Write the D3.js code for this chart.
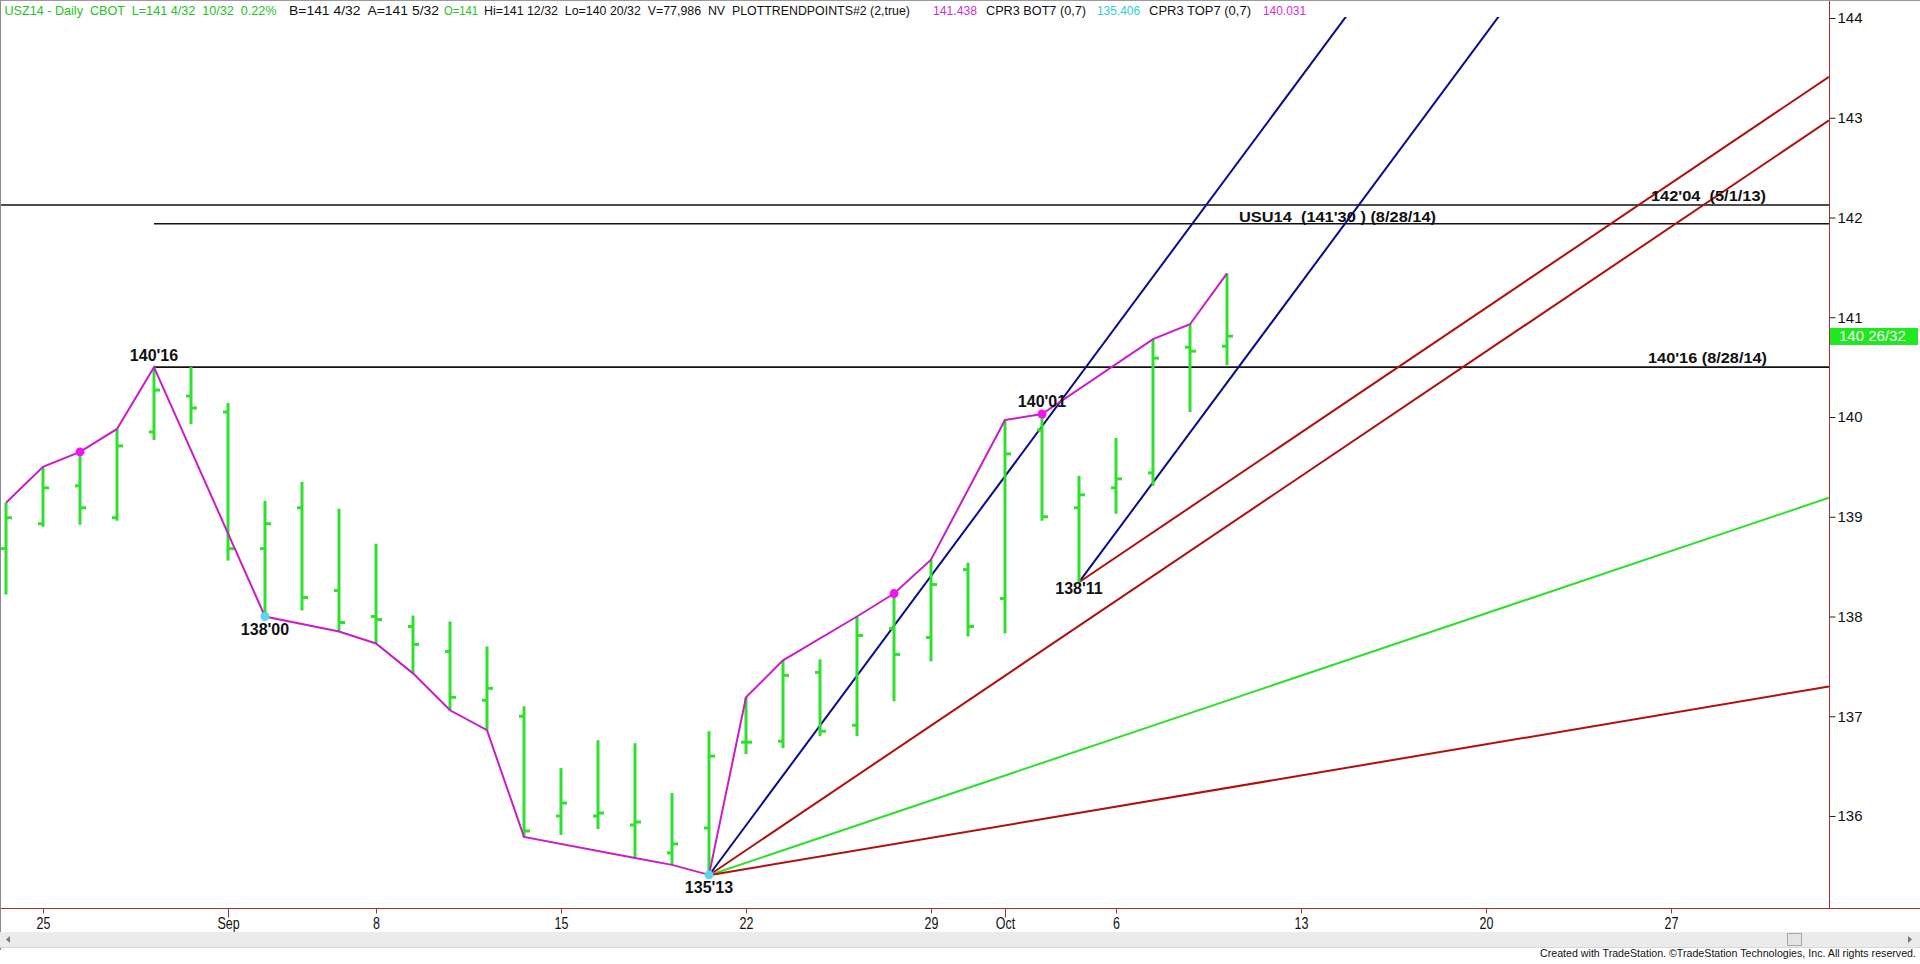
<!DOCTYPE html>
<html><head><meta charset="utf-8">
<script src="https://cdn.jsdelivr.net/npm/d3@7"></script>
<style>
html,body{margin:0;padding:0;background:#fff;overflow:hidden}
svg{display:block}
text{font-family:"Liberation Sans",Arial,sans-serif}
</style></head><body>
<svg id="chart" width="1920" height="964"></svg>
<script>
// ---- data (bar index: 0 = Aug 25, 2014; trading days only) ----
const barIndex = [-1,0,1,2,3,4,5,6,7,8,9,10,11,12,13,14,15,16,17,18,19,20,21,22,23,24,25,26,27,28,29,30,31,32];
const opens  = [138.68,138.93,139.31,138.99,139.85,140.21,140.05,138.68,139.09,138.26,138.00,137.90,137.65,137.16,137.00,136.00,136.00,135.91,135.63,135.88,136.74,136.75,137.44,136.91,137.88,137.79,138.47,138.18,139.87,139.09,139.29,139.44,140.70,140.71];
const highs  = [139.14,139.50,139.65,139.88,140.50,140.50,140.14,139.16,139.35,139.08,138.73,138.01,137.95,137.70,137.10,136.48,136.76,136.73,136.23,136.85,137.19,137.56,137.57,138.00,138.23,138.57,138.54,139.97,140.03,139.41,139.79,140.78,140.93,141.44];
const lows   = [138.22,138.90,138.92,138.96,139.77,139.93,138.56,138.00,138.06,137.85,137.73,137.43,137.06,136.86,135.79,135.81,135.87,135.58,135.51,135.41,136.62,136.68,136.80,136.80,137.15,137.55,137.80,137.83,138.96,138.34,139.03,139.31,140.05,140.52];
const closes = [138.99,139.29,139.09,139.71,140.27,140.09,138.68,138.93,138.19,137.94,137.97,137.72,137.19,137.28,135.85,136.13,136.03,135.94,135.72,136.60,136.74,137.41,136.85,137.81,137.62,138.32,137.90,139.63,139.00,139.22,139.38,140.59,140.66,140.81];

// trend-point path (PLOTTRENDPOINTS): bar index and which extreme
const trendIdx  = [-1,0,1,2,3,6,8,9,10,11,12,13,16,17,18,19,20,22,23,24,26,27,30,31,32];
const trendSide = ["H","H","H","H","H","L","L","L","L","L","L","L","L","L","L","H","H","H","H","H","H","H","H","H","H"];
// marked pivots
const dotIdx  = [1,6,18,23,27];
const dotSide = ["H","L","L","H","H"];
const dotKind = ["top","bot","bot","top","top"];

// labelled swing points
const pivotIdx    = [3,6,18,27,28];
const pivotPrice  = [140.5,138.0,135.40625,140.03125,138.34375];
const pivotText   = ["140'16","138'00","135'13","140'01","138'11"];

// angle (fan) lines: anchor bar, anchor price, points per bar
const fanAnchorIdx   = [18,18,18,18,28,28];
const fanAnchorPrice = [135.40625,135.40625,135.40625,135.40625,138.34375,138.34375];
const fanRate        = [0.5,0.25,0.125,0.0625,0.5,0.25];
const fanKind        = ["blue","red","green","red","blue","red"];

// horizontal levels
const levelPrice = [142.125,141.9375,140.5];
const levelStart = [-40,3,3];
const levelText  = ["142'04  (5/1/13)","USU14  (141'30 ) (8/28/14)","140'16 (8/28/14)"];

// axes
const priceTicks = [136,137,138,139,140,141,142,143,144];
const dateTickIdx = [0,5,9,14,19,24,26,29,34,39,44];
const dateTickLabels = ["25","Sep","8","15","22","29","Oct","6","13","20","27"];
const monthTick = [false,true,false,false,false,false,true,false,false,false,false];

const lastPriceText = "140 26/32";
const lastPrice = 140.8125;

const headerTexts  = ["USZ14 - Daily  CBOT  L=141 4/32  10/32  0.22%","B=141 4/32  A=141 5/32","O=141","Hi=141 12/32  Lo=140 20/32  V=77,986  NV  PLOTTRENDPOINTS#2 (2,true)","141.438","CPR3 BOT7 (0,7)","135.406","CPR3 TOP7 (0,7)","140.031"];
const footerText = "Created with TradeStation. \u00A9TradeStation Technologies, Inc. All rights reserved.";

// ---- drawing ----
const svg = d3.select("#chart");
const RIGHT = 1829, BOTTOM = 908, TOP = 17;
const x = d3.scaleLinear().domain([0,44]).range([43,1671]);
const y = d3.scaleLinear().domain([136,144]).range([816,18]);
const colors = {blue:"#0a0a8c", red:"#b0100c", green:"#2ee02e"};
const barGreen = "#2fe02f";

svg.append("rect").attr("width",1920).attr("height",964).attr("fill","#fff");

const defs = svg.append("defs");
defs.append("clipPath").attr("id","plot").append("rect")
  .attr("x",0).attr("y",TOP).attr("width",RIGHT).attr("height",BOTTOM-TOP);

const plot = svg.append("g").attr("clip-path","url(#plot)");

// horizontal levels
plot.selectAll("line.level").data(levelPrice).join("line")
  .attr("x1",(d,i)=>Math.max(0,x(levelStart[i]))).attr("x2",RIGHT)
  .attr("y1",d=>y(d)).attr("y2",d=>y(d))
  .attr("stroke","#111").attr("stroke-width",1.6);

// fan lines
const endIdx = x.invert(RIGHT);
plot.selectAll("line.fan").data(fanRate).join("line")
  .attr("x1",(d,i)=>x(fanAnchorIdx[i])).attr("y1",(d,i)=>y(fanAnchorPrice[i]))
  .attr("x2",x(endIdx)).attr("y2",(d,i)=>y(fanAnchorPrice[i]+d*(endIdx-fanAnchorIdx[i])))
  .attr("stroke",(d,i)=>colors[fanKind[i]]).attr("stroke-width",2);

// OHLC bars
const bars = plot.append("g");
barIndex.forEach((b,i)=>{
  const cx = x(b);
  bars.append("line").attr("x1",cx).attr("x2",cx).attr("y1",y(highs[i])).attr("y2",y(lows[i]))
    .attr("stroke",barGreen).attr("stroke-width",3);
  bars.append("line").attr("x1",cx-5).attr("x2",cx).attr("y1",y(opens[i])).attr("y2",y(opens[i]))
    .attr("stroke",barGreen).attr("stroke-width",3);
  bars.append("line").attr("x1",cx).attr("x2",cx+6).attr("y1",y(closes[i])).attr("y2",y(closes[i]))
    .attr("stroke",barGreen).attr("stroke-width",3);
});

// trend path
const trendPts = trendIdx.map((b,k)=>{
  const i = barIndex.indexOf(b);
  return [x(b), y(trendSide[k]==="H"?highs[i]:lows[i])];
});
plot.append("path").attr("d",d3.line()(trendPts))
  .attr("fill","none").attr("stroke","#c81ec8").attr("stroke-width",2);

// dots
plot.selectAll("circle.dot").data(dotIdx).join("circle")
  .attr("cx",d=>x(d))
  .attr("cy",(d,k)=>{const i=barIndex.indexOf(d);return y(dotSide[k]==="H"?highs[i]:lows[i]);})
  .attr("r",4.5)
  .attr("fill",(d,k)=>dotKind[k]==="top"?"#f014f0":"#5cd6f0");

// pivot labels
const pivotDy = [-6,18,18,-7,12];
plot.selectAll("text.pivot").data(pivotText).join("text")
  .attr("x",(d,i)=>x(pivotIdx[i]))
  .attr("y",(d,i)=>y(pivotPrice[i])+pivotDy[i])
  .attr("text-anchor","middle").attr("font-size",16).attr("font-weight","bold")
  .attr("fill","#111").text(d=>d);

// level labels
const levelLabelX = [1651,1239,1648];
const levelLabelW = [115,197,119];
const levelLabelDy = [-4,-2,-4];
plot.selectAll("text.lvl").data(levelText).join("text")
  .attr("x",(d,i)=>levelLabelX[i]).attr("y",(d,i)=>y(levelPrice[i])+levelLabelDy[i])
  .attr("font-size",15.5).attr("font-weight","bold").attr("fill","#111")
  .attr("textLength",(d,i)=>levelLabelW[i]).attr("lengthAdjust","spacingAndGlyphs")
  .style("white-space","pre").text(d=>d);

// axes lines
const axisColor = "#a83232";
svg.append("line").attr("x1",RIGHT+0.5).attr("x2",RIGHT+0.5).attr("y1",0).attr("y2",BOTTOM)
  .attr("stroke",axisColor).attr("stroke-width",1);
svg.append("line").attr("x1",0).attr("x2",1920).attr("y1",BOTTOM+0.5).attr("y2",BOTTOM+0.5)
  .attr("stroke",axisColor).attr("stroke-width",1.2);

// right axis
const ra = svg.append("g").attr("transform",`translate(${RIGHT+0.5},0)`)
  .call(d3.axisRight(y).tickValues(priceTicks).tickSize(6).tickPadding(2).tickFormat(d3.format("d")));
ra.select(".domain").remove();
ra.selectAll(".tick line").attr("stroke","#222");
ra.selectAll(".tick text").attr("font-size",15).attr("fill","#111").attr("font-family","Liberation Sans, Arial, sans-serif");

// last price box
svg.append("rect").attr("x",RIGHT+1).attr("y",y(lastPrice)-8).attr("width",88).attr("height",17).attr("fill","#1ee81e");
svg.append("text").attr("x",RIGHT+10).attr("y",y(lastPrice)+5.5).attr("font-size",15).attr("fill","#fff").text(lastPriceText);

// bottom axis
const ba = svg.append("g").attr("transform",`translate(0,${BOTTOM+0.5})`)
  .call(d3.axisBottom(x).tickValues(dateTickIdx).tickSize(5).tickPadding(4).tickFormat((d,i)=>dateTickLabels[i]));
ba.select(".domain").remove();
ba.selectAll(".tick line").attr("stroke",axisColor).attr("y2",(d,i)=>monthTick[i]?9:5);
ba.selectAll(".tick text").attr("font-size",16).attr("fill","#111")
  .attr("font-family","Liberation Sans, Arial, sans-serif")
  .attr("transform","scale(0.78,1)");

// header
const headerX = [4.5,289,444,484,933,986,1097,1149,1263];
const headerW = [272,150,34,426,44,100,43,102,43];
const headerColor = ["#22c322","#111","#22c322","#111","#d030d0","#111","#33cccc","#111","#d030d0"];
svg.selectAll("text.hdr").data(headerTexts).join("text")
  .attr("x",(d,i)=>headerX[i]).attr("y",15).attr("font-size",12.5)
  .attr("textLength",(d,i)=>headerW[i]).attr("lengthAdjust","spacingAndGlyphs")
  .attr("fill",(d,i)=>headerColor[i]).style("white-space","pre").text(d=>d);

// window frame
svg.append("line").attr("x1",0.5).attr("x2",0.5).attr("y1",0).attr("y2",950).attr("stroke","#8a8a8a");
svg.append("line").attr("x1",0).attr("x2",1920).attr("y1",0.5).attr("y2",0.5).attr("stroke","#9a9a9a");

// scrollbar
svg.append("rect").attr("x",0).attr("y",932).attr("width",1920).attr("height",15).attr("fill","#ebebeb");
svg.append("line").attr("x1",0).attr("x2",1920).attr("y1",947.5).attr("y2",947.5).attr("stroke","#d8d8d8");
svg.append("rect").attr("x",1787.5).attr("y",933.5).attr("width",14).attr("height",12).attr("fill","#e4e4e4").attr("stroke","#a8a8a8");
svg.append("path").attr("d","M10,936 L6,939.5 L10,943 Z").attr("fill","#777");
svg.append("path").attr("d","M1908,936 L1912,939.5 L1908,943 Z").attr("fill","#777");

// footer
svg.append("text").attr("x",1540).attr("y",957).attr("font-size",10.5)
  .attr("fill","#111").attr("textLength",376).attr("lengthAdjust","spacingAndGlyphs").text(footerText);
</script>
</body></html>
